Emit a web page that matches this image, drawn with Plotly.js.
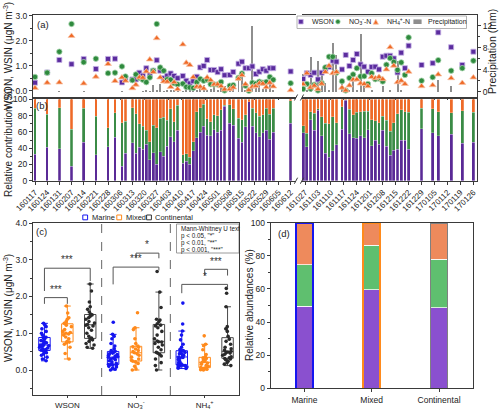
<!DOCTYPE html>
<html>
<head>
<meta charset="utf-8">
<script src="https://cdn.plot.ly/plotly-3.0.1.min.js"></script>
<style>
  html, body { margin: 0; padding: 0; background: #fff; }
  #chart { width: 500px; height: 409px; }
</style>
</head>
<body>
<div id="chart"></div>
<script>
// ---------- daily samples: WSON / NO3- / NH4+ (ugN m-3) and precipitation (mm) ----------
const sampleDates = [
  '2016-01-17','2016-01-24','2016-01-31','2016-02-07','2016-02-14','2016-02-21','2016-02-28','2016-03-03','2016-03-07','2016-03-09',
  '2016-03-13','2016-03-15','2016-03-17','2016-03-19','2016-03-21','2016-03-23','2016-03-25','2016-03-27','2016-03-29','2016-03-31','2016-04-02','2016-04-04','2016-04-06','2016-04-08',
  '2016-04-11','2016-04-13','2016-04-15','2016-04-17','2016-04-19','2016-04-21','2016-04-23','2016-04-25','2016-04-27','2016-04-29','2016-05-01','2016-05-03','2016-05-05',
  '2016-05-08','2016-05-10',
  '2016-05-13','2016-05-15','2016-05-17','2016-05-19','2016-05-21','2016-05-23','2016-05-25','2016-05-27','2016-05-29','2016-05-31','2016-06-02',
  '2016-06-12',
  '2016-10-26','2016-10-28','2016-10-30','2016-11-01','2016-11-03','2016-11-05','2016-11-07','2016-11-09','2016-11-11','2016-11-13',
  '2016-11-16','2016-11-18','2016-11-20','2016-11-22','2016-11-24','2016-11-26','2016-11-28','2016-11-30','2016-12-02','2016-12-04','2016-12-06','2016-12-08',
  '2016-12-10','2016-12-12','2016-12-14','2016-12-16','2016-12-18','2016-12-20','2016-12-22',
  '2016-12-29','2017-01-04','2017-01-07','2017-01-14','2017-01-20','2017-01-26'
];
const wson = [
  0.32,0.73,1.23,1.06,1.27,0.87,1.27,1.28,0.33,0.50,
  0.45,0.45,0.72,0.60,0.90,0.62,0.80,1.22,0.80,0.50,0.60,0.69,0.59,0.50,
  0.59,0.40,0.29,0.38,0.56,0.93,0.99,1.23,0.83,0.83,0.74,0.86,0.62,
  0.63,0.75,
  1.08,1.16,0.90,0.90,0.97,0.67,0.76,0.86,0.80,0.90,0.90,
  0.77,
  0.47,0.70,0.63,0.72,0.45,0.72,0.85,0.95,1.20,1.16,
  0.85,1.43,0.99,1.23,1.47,1.05,0.96,0.76,0.95,0.96,0.85,1.36,
  1.40,1.40,1.29,0.73,1.52,0.90,1.80,
  1.03,1.10,2.33,1.74,1.03,1.56
];
const no3 = [
  0.55,0.72,1.56,2.67,1.14,1.28,0.70,0.72,0.97,0.57,
  0.42,0.65,0.51,0.44,0.34,0.53,0.80,2.67,0.93,0.80,0.45,0.44,0.30,0.25,
  0.28,0.15,0.13,0.11,0.34,0.47,0.40,0.44,0.26,0.25,0.25,0.35,0.01,
  0.20,0.22,
  0.52,0.69,0.20,0.00,0.32,0.28,0.36,0.32,0.35,0.55,0.44,
  0.30,
  0.07,0.27,0.08,0.24,0.01,0.31,0.93,1.36,1.36,0.72,
  0.38,0.01,0.51,0.65,0.90,0.57,0.58,0.27,0.70,0.46,0.49,0.37,
  1.04,1.30,1.15,0.83,1.13,0.63,2.13,
  0.40,0.54,1.22,0.80,0.90,1.20
];
const nh4 = [
  0.11,0.32,0.33,2.19,0.29,0.56,1.07,0.39,0.53,0.40,
  0.10,0.24,0.53,0.52,0.77,1.25,0.75,2.10,0.53,0.37,0.36,0.15,0.34,0.06,
  1.85,1.12,1.03,0.54,0.16,0.16,0.09,0.53,0.42,0.25,0.25,0.18,0.05,
  0.06,0.13,
  0.48,0.62,0.26,0.03,0.16,0.19,0.29,0.28,0.14,0.32,0.17,
  0.02,
  0.26,0.70,0.13,0.20,0.06,0.28,0.75,1.00,0.70,0.75,
  0.12,0.01,0.21,0.44,0.45,0.29,0.27,0.18,0.55,0.50,0.55,0.46,
  0.85,1.74,1.00,0.34,0.40,0.27,0.76,
  0.18,0.22,0.65,0.50,0.31,0.53
];
const precipitation = [
  0,0,0.1,0,0.1,0,0,0,0.1,0,
  0,0,0,0.1,0.3,0.2,1.2,0.3,1.4,0.2,0.3,0.4,0.3,0.1,
  0.2,0.9,0.9,0.9,0.3,0.6,1.2,0.3,0.5,0.9,0.3,0.8,1.0,
  0.8,1.0,
  2.7,3.3,0.3,0.5,11.9,1.5,2.2,0.5,2.4,1.8,0.3,
  0,
  3.2,0.3,6.4,0,5.5,3.6,1.5,0.3,8.9,6.7,
  1.9,0,0.3,2.3,0.3,10.5,1.0,0,0.3,0,0,1.0,
  0,0.3,0,5.5,0.3,0,0,
  0,0,2.1,1.0,0,0
];

// ---------- concentrations grouped by air-mass origin ----------
const originNames = ['Marine', 'Mixed', 'Continental'];
const speciesKeys = ['WSON', 'NO3', 'NH4'];
const speciesLabels = ['WSON', 'NO<sub>3</sub><sup>-</sup>', 'NH<sub>4</sub><sup>+</sup>'];

const marineWSON = [0.25,0.30,0.35,0.40,0.44,0.47,0.50,0.52,0.53,0.54,0.56,0.58,0.60,0.62,0.64,0.66,0.67,0.68,0.70,0.72,0.74,0.76,0.78,0.80,0.84,0.87,0.89,0.90,0.95,1.00,1.05,1.12,1.18,1.22,1.27];
const marineNO3  = [0,0.02,0.05,0.08,0.10,0.12,0.14,0.15,0.15,0.16,0.18,0.22,0.25,0.28,0.30,0.32,0.34,0.35,0.36,0.38,0.40,0.42,0.44,0.46,0.48,0.49,0.51,0.53,0.58,0.65,0.72,0.85,0.92,0.97,1.30];
const marineNH4  = [0.04,0.05,0.06,0.08,0.09,0.10,0.12,0.13,0.14,0.14,0.17,0.20,0.23,0.26,0.29,0.32,0.34,0.355,0.37,0.40,0.42,0.44,0.46,0.48,0.50,0.51,0.53,0.56,0.62,0.70,0.82,0.95,1.06,1.25,1.82];
const mixedWSON  = [0.30,0.45,0.62,0.70,0.74,0.76,0.78,0.85,0.90,0.95,0.98,1.00,1.02,1.05,1.10,1.18,1.22,1.27,1.32,1.38,1.42,1.55,1.74];
const mixedNO3   = [0,0.03,0.10,0.18,0.22,0.24,0.26,0.30,0.35,0.40,0.44,0.47,0.50,0.53,0.57,0.62,0.63,0.65,0.72,0.85,1.10,1.15,1.56];
const mixedNH4   = [0,0.01,0.02,0.04,0.05,0.06,0.07,0.10,0.13,0.16,0.19,0.21,0.23,0.25,0.28,0.31,0.33,0.35,0.42,0.55,0.66,0.70,0.93];
const contWSON   = [0.59,0.62,0.68,0.72,0.78,0.82,0.85,0.87,0.92,1.00,1.08,1.15,1.20,1.22,1.24,1.28,1.32,1.38,1.42,1.46,1.50,1.52,1.58,1.65,1.72,1.85,2.15,2.34];
const contNO3    = [0,0.12,0.20,0.30,0.38,0.42,0.46,0.48,0.55,0.62,0.68,0.72,0.76,0.77,0.79,0.85,0.95,1.05,1.15,1.20,1.22,1.26,1.32,1.36,1.38,1.70,2.12,2.68];
const contNH4    = [0.12,0.16,0.20,0.24,0.28,0.30,0.31,0.33,0.36,0.40,0.43,0.46,0.48,0.49,0.51,0.54,0.58,0.62,0.70,0.78,0.84,0.92,1.05,1.12,1.18,1.72,2.09,2.22];

// Mann-Whitney significance between origins: [species index, origin A, origin B, label]
const sigPairs = [[0,0,1,'***'], [0,0,2,'***'], [1,0,2,'***'], [1,1,2,'*'], [2,0,2,'*'], [2,1,2,'***']];
// bracket heights: top bar, left leg end, right leg end
const sigHeights = [[1.97,1.80,1.80], [2.77,2.15,2.42], [2.80,2.33,2.71], [3.18,3.04,3.04], [2.33,2.09,2.24], [2.74,2.57,2.57]];
const testNote = ['Mann-Whitney U text', 'p &lt; 0.05, "*"', 'p &lt; 0.01, "**"', 'p &lt; 0.001, "***"'];

// mean relative abundances (%) by origin
const wsonShare = [49.5, 59.5, 48.5];
const no3Share  = [25.0, 27.0, 29.5];
const nh4Share  = [25.5, 13.5, 22.0];

// ---------- helpers ----------
const DAY = 86400000;
const W = 500, H = 409;
const px = x => x / W;
const py = y => 1 - y / H;
const inFirstPeriod = d => d < '2016-07-01';
const pick = (arr, keep) => arr.filter((_, i) => keep(sampleDates[i]));

const C = {
  wson: '#5b2c9e', no3: '#2f8a3e', nh4: '#ef6a27',
  wsonBar: '#5a2a96', no3Bar: '#3b8b46', nh4Bar: '#ee6a28',
  rain: '#8e8e8e',
  marine: '#1515f0', mixed: '#ff8a1c', cont: '#2a2a2a',
  dW: '#8a50cf', dN: '#5fbf6f', dA: '#ee8a5c'
};
const FONT = 'Liberation Sans, Arial, sans-serif';

const segments = [
  { keep: inFirstPeriod, xa: 'x', xb: 'x3', yb: 'y3' },
  { keep: d => !inFirstPeriod(d), xa: 'x2', xb: 'x4', yb: 'y4' }
];

const traces = [];

// (a) precipitation bars (base axis) and concentration markers (overlay axis)
segments.forEach(s => {
  traces.push({
    type: 'bar', x: pick(sampleDates, s.keep), y: pick(precipitation, s.keep),
    xaxis: s.xa, yaxis: 'y', width: 1.1 * DAY,
    marker: { color: C.rain, line: { width: 0 } }, hoverinfo: 'skip'
  });
});
segments.forEach(s => {
  const d = pick(sampleDates, s.keep);
  traces.push({ type: 'scatter', mode: 'markers', x: d, y: pick(wson, s.keep), xaxis: s.xa, yaxis: 'y2',
    marker: { symbol: 'square', size: 5, color: C.wson, line: { color: '#c7b2e6', width: 0.8 } } });
  traces.push({ type: 'scatter', mode: 'markers', x: d, y: pick(no3, s.keep), xaxis: s.xa, yaxis: 'y2',
    marker: { symbol: 'circle', size: 5.5, color: C.no3, line: { color: '#a9d7b0', width: 0.8 } } });
  traces.push({ type: 'scatter', mode: 'markers', x: d, y: pick(nh4, s.keep), xaxis: s.xa, yaxis: 'y2',
    marker: { symbol: 'triangle-up', size: 6, color: C.nh4, line: { color: '#f8c3a6', width: 0.8 } } });
});

// (b) relative contribution of each species to the daily total
segments.forEach(s => {
  const d = pick(sampleDates, s.keep);
  const w = pick(wson, s.keep), n = pick(no3, s.keep), a = pick(nh4, s.keep);
  const total = w.map((v, i) => v + n[i] + a[i]);
  [[w, C.wsonBar], [n, C.no3Bar], [a, C.nh4Bar]].forEach(([vals, col]) => {
    traces.push({
      type: 'bar', x: d, y: vals.map((v, i) => 100 * v / total[i]),
      xaxis: s.xb, yaxis: s.yb, width: 1.5 * DAY,
      marker: { color: col, line: { color: 'rgba(255,255,255,0.45)', width: 0.5 } }, hoverinfo: 'skip'
    });
  });
});

// (c) box plots by origin
const byOrigin = [
  [marineWSON, marineNO3, marineNH4],
  [mixedWSON, mixedNO3, mixedNH4],
  [contWSON, contNO3, contNH4]
];
const boxLine = [C.marine, C.mixed, '#4a4a4a'];
const boxPts = [C.marine, C.mixed, C.cont];
byOrigin.forEach((groups, k) => {
  const xs = [], ys = [];
  groups.forEach((vals, j) => vals.forEach(v => { xs.push(speciesKeys[j]); ys.push(v); }));
  traces.push({
    type: 'box', name: originNames[k], x: xs, y: ys, xaxis: 'x5', yaxis: 'y5',
    boxpoints: 'all', jitter: 0.9, pointpos: 0, whiskerwidth: 0.6,
    line: { color: boxLine[k], width: 1 }, fillcolor: 'rgba(255,255,255,0)',
    marker: { color: boxPts[k], size: 3.6 }, hoverinfo: 'skip'
  });
});

// (d) stacked mean relative abundances with origin-coloured outline
[[wsonShare, C.dW], [no3Share, C.dN], [nh4Share, C.dA]].forEach(([vals, col]) => {
  traces.push({
    type: 'bar', x: originNames, y: vals, xaxis: 'x6', yaxis: 'y6', width: 0.25,
    marker: { color: col, line: { color: 'rgba(255,255,255,0.75)', width: 1 } }, hoverinfo: 'skip'
  });
});
traces.push({
  type: 'bar', x: originNames, y: wsonShare.map((v, i) => v + no3Share[i] + nh4Share[i]),
  xaxis: 'x7', yaxis: 'y6', width: 0.25,
  marker: { color: 'rgba(0,0,0,0)', line: { color: [C.marine, C.mixed, '#808080'], width: 1.6 } }, hoverinfo: 'skip'
});

// ---------- axes ----------
const LINE = '#3a3a3a';
const base = {
  showgrid: false, zeroline: false, showline: true, linecolor: LINE, linewidth: 1,
  ticks: 'outside', ticklen: 3, tickcolor: LINE, tickwidth: 1,
  tickfont: { size: 8.5, color: '#222', family: FONT }
};
const minorY = dt => ({ dtick: dt, ticks: 'outside', ticklen: 2, tickcolor: LINE });

const A_DOM = [py(97), py(15)];
const B_DOM = [py(180.7), py(99.3)];
const LEFT_DOM = [px(33), px(296)];
const RIGHT_DOM = [px(302), px(477)];
const LEFT_RANGE = ['2016-01-15 20:24', '2016-06-15 02:00'];
const RIGHT_RANGE = ['2016-10-25 09:00', '2017-01-27 23:00'];

const layout = {
  width: W, height: H, margin: { l: 0, r: 0, t: 0, b: 0 },
  paper_bgcolor: '#ffffff', plot_bgcolor: 'rgba(0,0,0,0)',
  font: { family: FONT, size: 9, color: '#222' },
  showlegend: false, barmode: 'stack', bargap: 0,
  boxmode: 'group', boxgap: 0, boxgroupgap: 0.5,

  // (a)
  xaxis: { ...base, type: 'date', domain: LEFT_DOM, range: LEFT_RANGE, anchor: 'y', mirror: true,
           showticklabels: false, tick0: '2016-01-17', dtick: 7 * DAY, ticklen: 2 },
  xaxis2: { ...base, type: 'date', domain: RIGHT_DOM, range: RIGHT_RANGE, anchor: 'y', mirror: true,
            showticklabels: false, tick0: '2016-10-27', dtick: 7 * DAY, ticklen: 2 },
  yaxis: { ...base, domain: A_DOM, range: [-0.96, 13.94], side: 'right', anchor: 'x2',
           tick0: 0, dtick: 4, minor: minorY(2) },
  yaxis2: { ...base, domain: A_DOM, range: [-0.252, 3.028], overlaying: 'y', side: 'left', anchor: 'x',
            tick0: 0, dtick: 1, tickformat: '.1f', minor: minorY(0.5) },

  // (b)
  xaxis3: { ...base, type: 'date', domain: LEFT_DOM, range: LEFT_RANGE, anchor: 'y3', mirror: true,
            tick0: '2016-01-17', dtick: 7 * DAY, tickformat: '%y%m%d', tickangle: -45,
            tickfont: { size: 8, color: '#222', family: FONT } },
  xaxis4: { ...base, type: 'date', domain: RIGHT_DOM, range: RIGHT_RANGE, anchor: 'y4', mirror: true,
            tick0: '2016-10-27', dtick: 7 * DAY, tickformat: '%y%m%d', tickangle: -45,
            tickfont: { size: 8, color: '#222', family: FONT } },
  yaxis3: { ...base, domain: B_DOM, range: [0, 100], anchor: 'x3', dtick: 20, minor: minorY(10) },
  yaxis4: { ...base, domain: B_DOM, range: [0, 100], anchor: 'x4', side: 'right', matches: 'y3',
            ticks: '', showticklabels: false },

  // (c)
  xaxis5: { ...base, type: 'category', domain: [px(33), px(239)], anchor: 'y5', range: [-0.5, 2.5], mirror: true,
            categoryorder: 'array', categoryarray: speciesKeys, tickvals: speciesKeys, ticktext: speciesLabels,
            ticklen: 2, tickfont: { size: 8, color: '#222', family: FONT } },
  yaxis5: { ...base, domain: [py(395), py(223)], anchor: 'x5', range: [-0.68, 4.0], mirror: true,
            tick0: 0, dtick: 1, tickformat: '.1f', minor: minorY(0.5) },

  // (d)
  xaxis6: { ...base, type: 'category', domain: [px(270.7), px(472.7)], anchor: 'y6', range: [-0.5, 2.5], mirror: true,
            categoryorder: 'array', categoryarray: originNames, tickfont: { size: 8.5, color: '#222', family: FONT } },
  xaxis7: { type: 'category', domain: [px(270.7), px(472.7)], anchor: 'y6', range: [-0.5, 2.5], overlaying: 'x6',
            categoryorder: 'array', categoryarray: originNames, visible: false },
  yaxis6: { ...base, domain: [py(388.3), py(222.7)], anchor: 'x6', range: [0, 100], mirror: true,
            dtick: 20, minor: minorY(10) }
};

// ---------- text ----------
const ann = [];
const title = (x, y, text, size = 10) => ann.push({ xref: 'paper', yref: 'paper', x: px(x), y: py(y), text,
  textangle: -90, showarrow: false, xanchor: 'center', yanchor: 'middle', font: { size, color: '#222', family: FONT } });
title(8, 56, 'WSON, WSIN (μgN m<sup>-3</sup>)');
title(8, 143, 'Relative contribution (%)');
title(492, 52, 'Precipitation (mm)', 10.5);
title(8, 308, 'WSON, WSIN (μgN m<sup>-3</sup>)');
title(249, 305, 'Relative abundances (%)');

const label = (x, y, text, size = 9.5) => ann.push({ xref: 'paper', yref: 'paper', x: px(x), y: py(y), text,
  showarrow: false, xanchor: 'left', yanchor: 'middle', font: { size, color: '#222', family: FONT } });
label(35, 24, '(a)');
label(34, 106, '(b)');
label(34, 232, '(c)');
label(276, 233, '(d)');

// legend for (a)
label(310, 21.8, 'WSON', 7);
label(347, 21.8, 'NO<sub>3</sub><sup>-</sup>-N', 7);
label(385, 21.8, 'NH<sub>4</sub><sup>+</sup>-N', 7);
label(426, 21.8, 'Precipitation', 7);
// legend for (c)
label(90, 217.3, 'Marine', 7.5);
label(124, 217.3, 'Mixed', 7.5);
label(153, 217.3, 'Continental', 7.5);

// Mann-Whitney note, one line per row inside a framed box
testNote.forEach((t, i) => label(178.5, 228.8 + i * 7, t, 6.3));

// ---------- shapes ----------
const shapes = [];
const OFF = 1 / 3;
const bracketLine = { color: '#555', width: 1 };

shapes.push({ type: 'rect', xref: 'paper', yref: 'paper', x0: px(176.5), x1: px(239), y0: py(253), y1: py(224),
  line: { color: '#9a9a9a', width: 1 }, fillcolor: 'rgba(0,0,0,0)', layer: 'below' });

// dashed separators between species
[0.5, 1.5].forEach(x => shapes.push({ type: 'line', xref: 'x5', yref: 'y5', x0: x, x1: x, y0: -0.68, y1: 4.0,
  line: { color: '#666', width: 1, dash: 'dash' } }));

// significance brackets
sigPairs.forEach(([sp, oa, ob, txt], i) => {
  const [top, legA, legB] = sigHeights[i];
  const xa = sp + (oa - 1) * OFF, xb = sp + (ob - 1) * OFF;
  shapes.push({ type: 'line', xref: 'x5', yref: 'y5', x0: xa, x1: xa, y0: legA, y1: top, line: bracketLine });
  shapes.push({ type: 'line', xref: 'x5', yref: 'y5', x0: xa, x1: xb, y0: top, y1: top, line: bracketLine });
  shapes.push({ type: 'line', xref: 'x5', yref: 'y5', x0: xb, x1: xb, y0: legB, y1: top, line: bracketLine });
  ann.push({ xref: 'x5', yref: 'y5', x: (xa + xb) / 2, y: top + 0.02, text: txt, showarrow: false,
    xanchor: 'center', yanchor: 'bottom', font: { size: 10, color: '#333', family: FONT } });
});

// axis break marks
[[296, 97.5], [302, 97.5], [296, 180.7], [302, 180.7]].forEach(([x, y]) => shapes.push({
  type: 'line', xref: 'paper', yref: 'paper', x0: px(x - 1.6), y0: py(y + 3), x1: px(x + 1.6), y1: py(y - 3),
  line: { color: LINE, width: 1 } }));

// legend frame and symbols for (a)
shapes.push({ type: 'rect', xref: 'paper', yref: 'paper', x0: px(297), x1: px(466.5), y0: py(28.5), y1: py(16),
  line: { color: '#a0a0a0', width: 0.8 }, fillcolor: '#fff' });
shapes.push({ type: 'rect', xref: 'paper', yref: 'paper', x0: px(298.6), x1: px(303.2), y0: py(24), y1: py(19.4),
  line: { color: '#c7b2e6', width: 0.8 }, fillcolor: C.wson });
shapes.push({ type: 'circle', xref: 'paper', yref: 'paper', x0: px(335.6), x1: px(340.2), y0: py(24), y1: py(19.4),
  line: { color: '#a9d7b0', width: 0.8 }, fillcolor: C.no3 });
shapes.push({ type: 'path', xref: 'paper', yref: 'paper',
  path: `M ${px(373.2)},${py(24.2)} L ${px(378.4)},${py(24.2)} L ${px(375.8)},${py(19.2)} Z`,
  line: { color: '#f8c3a6', width: 0.8 }, fillcolor: C.nh4 });
shapes.push({ type: 'rect', xref: 'paper', yref: 'paper', x0: px(413.4), x1: px(421.6), y0: py(24), y1: py(19.4),
  line: { width: 0 }, fillcolor: C.rain });

// legend symbols for (c)
[[82.8, C.marine], [116.8, C.mixed], [146.6, '#333']].forEach(([x, col]) => shapes.push({
  type: 'rect', xref: 'paper', yref: 'paper', x0: px(x), x1: px(x + 4.8), y0: py(219.8), y1: py(215),
  line: { color: col, width: 1 }, fillcolor: '#fff' }));

layout.annotations = ann;
layout.shapes = shapes;

Plotly.newPlot('chart', traces, layout, { staticPlot: true, displayModeBar: false });
</script>
</body>
</html>
